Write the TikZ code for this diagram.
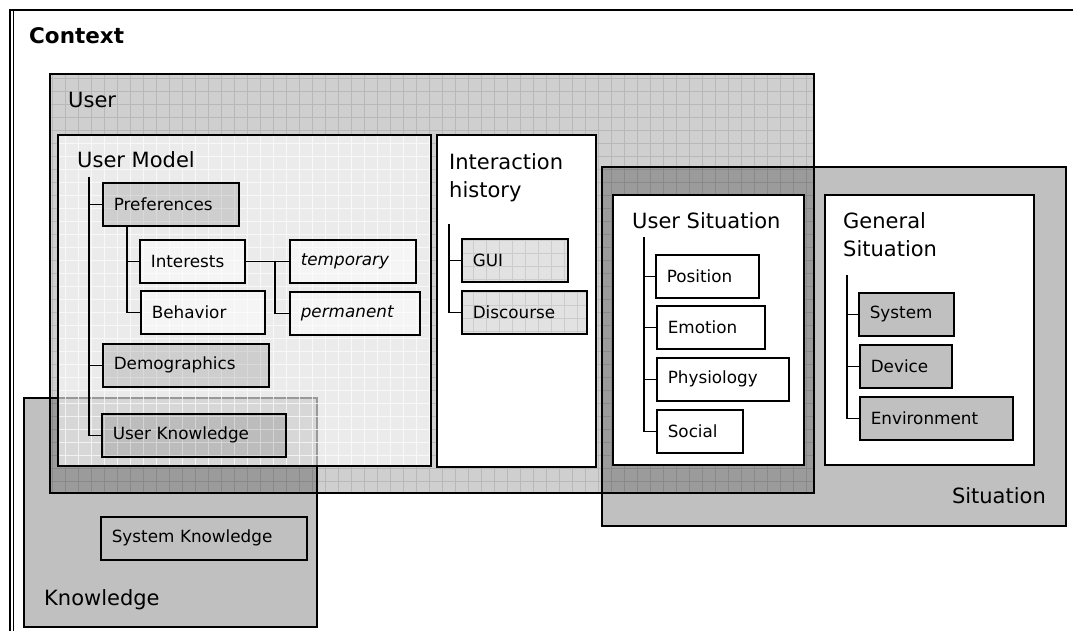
\documentclass[tikz,border=0pt]{standalone}
\usepackage{fontspec}
\setmainfont{DejaVu Sans}
\usepackage{tikz}
\usetikzlibrary{calc}
\definecolor{regiongray}{RGB}{192,192,192}
\definecolor{guigray}{RGB}{226,226,226}

\begin{document}
\begin{tikzpicture}[
    x=1pt, y=-1pt,
    bigtxt/.style={font=\fontsize{21}{28}\selectfont, anchor=base west, inner sep=0pt, align=left},
    region/.style={draw, line width=1.5pt, fill=regiongray},
    frame/.style={draw, line width=1.6pt},
    leaf/.style={draw, line width=1.6pt, anchor=north west, minimum height=43pt, inner xsep=11pt, inner ysep=0pt, align=left, font=\fontsize{16.8}{20}\selectfont},
    darkleaf/.style={leaf, fill=black, fill opacity=0.12, text opacity=1},
    paleleaf/.style={leaf, fill=white, fill opacity=0.5, text opacity=1},
    whiteleaf/.style={leaf, fill=white},
    greyleaf/.style={leaf, fill=regiongray},
    gridleaf/.style={leaf, fill=guigray, path picture={\draw[black!20, line width=0.6pt, step=13pt] (path picture bounding box.south west) grid (path picture bounding box.north east);}},
    tree/.style={line width=1.4pt},
    thintree/.style={line width=0.9pt},
]
\useasboundingbox (0,0) rectangle (1073,631);

% --- Context frame (runs off the page at right and bottom) ---
\draw[line width=1.5pt] (10,10) rectangle (1090,700);
\draw[line width=0.8pt] (13.5,10) -- (13.5,700);
\node[font=\bfseries\fontsize{21.5}{26}\selectfont, anchor=base west, inner sep=0pt] (ctxlbl) at (29,44) {Context};

% --- Knowledge and Situation regions (under the user region) ---
\draw[region] (24,398) rectangle (317,627);
\draw[region] (602,167) rectangle (1066,526);

% --- User region: translucent gridded grey ---
\fill[black, fill opacity=0.19] (50,74) rectangle (814,493);
\begin{scope}
  \clip (50,74) rectangle (814,493);
  \draw[black, opacity=0.11, line width=0.7pt, step=13pt] (50,74) grid (814,493);
\end{scope}
\draw[frame] (50,74) rectangle (814,493);
\node[bigtxt] (userlbl) at (68,108) {User};

% --- User model: lighter, white grid ---
\fill[white, fill opacity=0.6] (58,135) rectangle (431,466);
\begin{scope}
  \clip (58,135) rectangle (431,466);
  \draw[white, opacity=0.75, line width=0.9pt, step=13pt] (58,135) grid (431,466);
\end{scope}
\draw[frame] (58,135) rectangle (431,466);
\node[bigtxt] (umlbl) at (77,168) {User Model};

% --- Interaction history ---
\draw[frame, fill=white] (437,135) rectangle (596,467);
\node[bigtxt] (ihlbl) at (449,197) {Interaction\\history};

% --- User situation and general situation ---
\draw[frame, fill=white] (613,195) rectangle (804,465);
\node[bigtxt] (uslbl) at (632,228) {User Situation};
\draw[frame, fill=white] (825,195) rectangle (1034,465);
\node[bigtxt] (gslbl) at (843,256) {General\\Situation};

\node[bigtxt, anchor=base east] (sitlbl) at (1046,503) {Situation};
\node[bigtxt] (knowlbl) at (44,605) {Knowledge};

% --- User model tree ---
\node[darkleaf, text width=114pt] (pref) at (102,182) {Preferences};
\node[paleleaf, text width=83pt] (inter) at (139,239) {Interests};
\node[paleleaf, text width=102pt] (behav) at (140,290) {Behavior};
\node[paleleaf, text width=104pt, font=\fontsize{16.8}{20}\selectfont\itshape] (temp) at (289,239) {temporary};
\node[paleleaf, text width=108pt, font=\fontsize{16.8}{20}\selectfont\itshape] (perm) at (289,291) {permanent};
\node[darkleaf, text width=144pt] (demo) at (102,343) {Demographics};
\node[darkleaf, text width=162pt] (uknow) at (101,413) {User Knowledge};

\coordinate (umroot) at (89,177);
\draw[tree] (umroot) |- (uknow.west);
\foreach \n in {pref, demo}
  \draw[tree] (umroot |- \n.west) -- (\n.west);

\coordinate (prefroot) at (127,225);
\draw[tree] (prefroot) |- (behav.west);
\draw[tree] (prefroot |- inter.west) -- (inter.west);

\coordinate (intjoin) at (275,260.5);
\draw[thintree] (inter.east) -- (temp.west);
\draw[tree] (intjoin) |- (perm.west);

% --- Interaction history tree ---
\node[gridleaf, text width=84pt] (gui) at (461,238) {GUI};
\node[gridleaf, text width=103pt] (disc) at (461,290) {Discourse};
\coordinate (ihroot) at (449,224);
\draw[tree] (ihroot) |- (disc.west);
\draw[tree] (ihroot |- gui.west) -- (gui.west);

% --- User situation tree ---
\node[whiteleaf, text width=81pt] (pos) at (655,254) {Position};
\node[whiteleaf, text width=86pt] (emo) at (656,305) {Emotion};
\node[whiteleaf, text width=110pt] (phys) at (656,357) {Physiology};
\node[whiteleaf, text width=64pt] (soc) at (656,409) {Social};
\coordinate (usroot) at (644,237);
\draw[tree] (usroot) |- (soc.west);
\foreach \n in {pos, emo, phys}
  \draw[tree] (usroot |- \n.west) -- (\n.west);

% --- General situation tree ---
\node[greyleaf, text width=73pt] (sys) at (858,292) {System};
\node[greyleaf, text width=70pt] (dev) at (859,344) {Device};
\node[greyleaf, text width=131pt] (env) at (859,396) {Environment};
\coordinate (gsroot) at (847,275);
\draw[tree] (gsroot) |- (env.west);
\foreach \n in {sys, dev}
  \draw[tree] (gsroot |- \n.west) -- (\n.west);

% --- Knowledge ---
\node[leaf, text width=184pt] (sknow) at (100,516) {System Knowledge};

\end{tikzpicture}
\end{document}
